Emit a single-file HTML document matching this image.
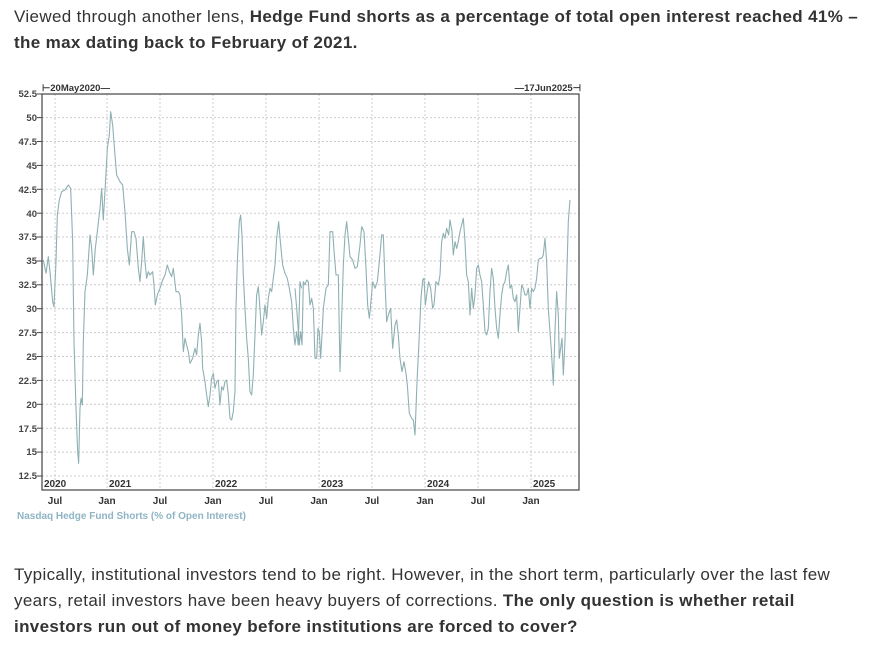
<!DOCTYPE html>
<html><head><style>
body{margin:0;background:#fff;width:869px;height:649px;overflow:hidden;font-family:"Liberation Sans",sans-serif;color:#333}
p{position:absolute;left:14px;margin:0;font-size:17px;letter-spacing:0.35px;line-height:26px;width:860px;white-space:nowrap}
</style></head><body>
<p style="top:4px">Viewed through another lens, <b>Hedge Fund shorts as a percentage of total open interest reached 41% –<br>the max dating back to February of 2021.</b></p>
<p style="top:562px">Typically, institutional investors tend to be right. However, in the short term, particularly over the last few<br>years, retail investors have been heavy buyers of corrections. <b>The only question is whether retail<br>investors run out of money before institutions are forced to cover?</b></p>
<svg width="869" height="649" style="position:absolute;left:0;top:0" font-family="Liberation Sans, sans-serif">
<g stroke="#ccc" stroke-dasharray="2,2" stroke-width="1">
<line x1="42" x2="579" y1="117.6" y2="117.6"/><line x1="42" x2="579" y1="141.5" y2="141.5"/><line x1="42" x2="579" y1="165.4" y2="165.4"/><line x1="42" x2="579" y1="189.3" y2="189.3"/><line x1="42" x2="579" y1="213.2" y2="213.2"/><line x1="42" x2="579" y1="237" y2="237"/><line x1="42" x2="579" y1="261" y2="261"/><line x1="42" x2="579" y1="284.8" y2="284.8"/><line x1="42" x2="579" y1="308.7" y2="308.7"/><line x1="42" x2="579" y1="332.6" y2="332.6"/><line x1="42" x2="579" y1="356.5" y2="356.5"/><line x1="42" x2="579" y1="380.4" y2="380.4"/><line x1="42" x2="579" y1="404.3" y2="404.3"/><line x1="42" x2="579" y1="428.2" y2="428.2"/><line x1="42" x2="579" y1="452.1" y2="452.1"/><line x1="42" x2="579" y1="476" y2="476"/>
<line x1="55" x2="55" y1="94" y2="490"/><line x1="107" x2="107" y1="94" y2="490"/><line x1="160" x2="160" y1="94" y2="490"/><line x1="213" x2="213" y1="94" y2="490"/><line x1="266" x2="266" y1="94" y2="490"/><line x1="319" x2="319" y1="94" y2="490"/><line x1="372" x2="372" y1="94" y2="490"/><line x1="425" x2="425" y1="94" y2="490"/><line x1="478" x2="478" y1="94" y2="490"/><line x1="531" x2="531" y1="94" y2="490"/>
</g>
<rect x="42" y="94" width="537" height="396" fill="none" stroke="#444" stroke-width="1.2"/>
<g fill="none" stroke="#8fb0b3" stroke-width="1.1" stroke-linejoin="round">
<polyline transform="translate(0,75) scale(0.3333)" vector-effect="non-scaling-stroke" points="130,555 138,595 145,545 150,590 158,680 162,695 168,560 172,420 178,375 185,350 195,345 205,330 212,340 218,500 222,800 228,1000 233,1130 236,1165 240,1000 243,970 247,990 250,800 255,650 262,600 270,480 275,520 280,600 286,520 292,470 300,400 305,340 310,435 316,330 322,220 328,180 332,110 338,150 345,240 350,300 360,320 368,330 375,410 382,520 388,570 395,470 402,470 408,490 415,580 420,620 425,560 430,485 435,560 440,610 445,590 450,600 458,590 462,630 466,690 472,660 480,640 488,615 495,600 502,570 508,590 515,605 520,580 528,650 535,650 540,660 545,720 550,830 555,790 560,810 565,830 570,865 578,850 585,820 590,840 595,780 600,745 605,800 608,880 615,920 620,960 625,995 630,960 635,910 640,895 645,940 650,920 655,915 660,990 665,935 670,945 675,920 680,915 685,960 690,1030 695,1035 700,1010 705,950 708,700 712,560 718,440 722,420 726,480 730,600 735,700 740,790 745,850 750,950 755,960 760,900 765,780 770,660 775,635 780,700 785,780 790,740 795,690 800,730 805,670 810,640 815,650 820,610 825,570 830,490 836,440 842,510 848,570 855,595 862,610 868,640 875,680 880,760 885,810 890,770 895,810 900,620 905,640"/>
<polyline transform="translate(290,75) scale(0.3333)" vector-effect="non-scaling-stroke" points="15,640 20,700 25,770 28,810 32,770 36,810 40,620 45,630 50,615 55,620 60,690 65,670 70,700 75,850 80,850 84,760 88,770 92,850 96,780 100,700 108,640 115,630 120,470 128,470 133,540 138,600 145,600 150,890 155,730 160,570 165,480 170,440 175,490 180,545 188,555 195,580 202,575 210,510 215,455 222,470 228,580 233,690 238,730 242,690 248,620 255,640 262,620 268,560 275,480 280,480 285,620 290,740 295,720 302,700 308,820 315,750 320,735 325,780 330,850 336,890 342,860 348,895 352,930 358,1015 365,1030 370,1035 375,1080 378,1000 382,900 388,780 393,670 398,615 402,610 406,690 410,660 416,620 422,640 428,700 432,690 438,620 445,630 450,600 455,500 460,475 465,490 470,460 476,480 480,435 486,470 490,540 495,500 500,520 505,500 510,470 515,450 520,430 525,500 530,600 535,620 540,720 545,640 550,700 555,660 560,580 565,570 570,600 575,620 580,690 585,770 590,780 595,760 600,650 605,580 610,610 615,700 620,760 625,790 630,720 635,660 640,630 645,620 650,590 655,570 660,640 665,630 670,670 675,680 680,660 685,770 690,700 695,630 700,640 705,660 710,660 715,640 720,700 725,640 730,650 735,640 740,610 745,555 750,550 755,550 760,540 765,490 770,560 775,700 780,770 785,840 790,930 795,770 800,650 805,720 808,850 812,820 816,790 820,900 825,800 830,620 835,440 840,375"/>
</g>
<g font-size="9.5" font-weight="bold" fill="#444" text-anchor="end">
<text x="37" y="97">52.5</text><text x="37" y="121">50</text><text x="37" y="145">47.5</text><text x="37" y="169">45</text><text x="37" y="193">42.5</text><text x="37" y="217">40</text><text x="37" y="240">37.5</text><text x="37" y="264">35</text><text x="37" y="288">32.5</text><text x="37" y="312">30</text><text x="37" y="336">27.5</text><text x="37" y="360">25</text><text x="37" y="384">22.5</text><text x="37" y="408">20</text><text x="37" y="432">17.5</text><text x="37" y="455">15</text><text x="37" y="479">12.5</text>
</g>
<g stroke="#444"><line x1="37" x2="42" y1="94" y2="94"/><line x1="37" x2="42" y1="117.6" y2="117.6"/><line x1="37" x2="42" y1="141.5" y2="141.5"/><line x1="37" x2="42" y1="165.4" y2="165.4"/><line x1="37" x2="42" y1="189.3" y2="189.3"/><line x1="37" x2="42" y1="213.2" y2="213.2"/><line x1="37" x2="42" y1="237" y2="237"/><line x1="37" x2="42" y1="261" y2="261"/><line x1="37" x2="42" y1="284.8" y2="284.8"/><line x1="37" x2="42" y1="308.7" y2="308.7"/><line x1="37" x2="42" y1="332.6" y2="332.6"/><line x1="37" x2="42" y1="356.5" y2="356.5"/><line x1="37" x2="42" y1="380.4" y2="380.4"/><line x1="37" x2="42" y1="404.3" y2="404.3"/><line x1="37" x2="42" y1="428.2" y2="428.2"/><line x1="37" x2="42" y1="452.1" y2="452.1"/><line x1="37" x2="42" y1="476" y2="476"/></g>
<g font-size="10" font-weight="bold" fill="#333">
<text x="44" y="487">2020</text><text x="109" y="487">2021</text><text x="215" y="487">2022</text><text x="321" y="487">2023</text><text x="427" y="487">2024</text><text x="533" y="487">2025</text>
</g>
<g font-size="10" font-weight="bold" fill="#333" text-anchor="middle">
<text x="55" y="504">Jul</text><text x="107" y="504">Jan</text><text x="160" y="504">Jul</text><text x="213" y="504">Jan</text><text x="266" y="504">Jul</text><text x="319" y="504">Jan</text><text x="372" y="504">Jul</text><text x="425" y="504">Jan</text><text x="478" y="504">Jul</text><text x="531" y="504">Jan</text>
</g>
<text x="17" y="519" font-size="10" font-weight="bold" fill="#8fb4c4">Nasdaq Hedge Fund Shorts (% of Open Interest)</text>
<text x="42" y="91" font-size="9.5" font-weight="bold" fill="#333">⊢20May2020—</text>
<text x="581" y="91" font-size="9.5" font-weight="bold" fill="#333" text-anchor="end">—17Jun2025⊣</text>
</svg>
</body></html>
